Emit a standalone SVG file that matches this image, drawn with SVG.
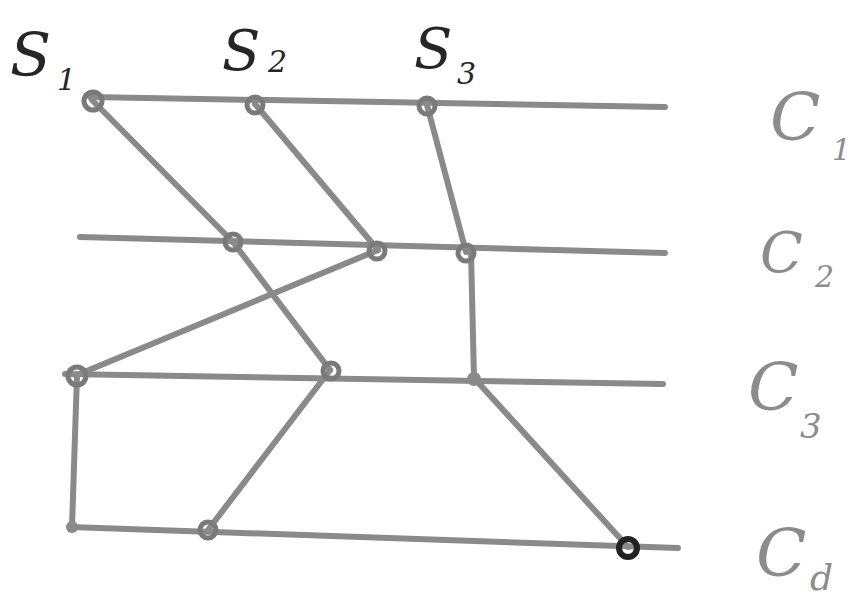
<svg xmlns="http://www.w3.org/2000/svg" width="861" height="599" viewBox="0 0 861 599">
<style>
.ln{stroke:#8a8a8a;stroke-width:6;stroke-linecap:round;fill:none}
.kn{fill:none;stroke:#7a7a7a;stroke-width:5}
.sl{font-family:"DejaVu Serif",serif;font-style:italic;fill:#262626}
.cl{font-family:"DejaVu Serif",serif;font-style:italic;fill:#8c8c8c}
</style>
<rect width="861" height="599" fill="#ffffff"/>
<g id="connectors">
<path class="ln" d="M90 97 L665 107"/>
<path class="ln" d="M80 237 L665 253"/>
<path class="ln" d="M65 374 L663 384"/>
<path class="ln" d="M70 527 L678 548"/>
<path class="ln" d="M92 100 L233 242"/>
<path class="ln" d="M233 242 L330 370"/>
<path class="ln" d="M255 104 L378 250"/>
<path class="ln" d="M378 250 L77 375"/>
<path class="ln" d="M427 105 L466 252"/>
<path class="ln" d="M471 252 L474 378"/>
<path class="ln" d="M474 378 L628 547"/>
<path class="ln" d="M77 375 L72 527"/>
<path class="ln" d="M330 370 L208 530"/>
</g>
<g id="n-s1-c1"><circle class="kn" cx="93" cy="101" r="9"/></g>
<g id="n-s2-c1"><circle class="kn" cx="255" cy="105" r="8"/></g>
<g id="n-s3-c1"><circle class="kn" cx="427" cy="106" r="8"/></g>
<g id="n-c2-a"><circle class="kn" cx="233" cy="242" r="8"/></g>
<g id="n-c2-b"><circle class="kn" cx="377" cy="251" r="8"/></g>
<g id="n-c2-c"><circle class="kn" cx="466" cy="253" r="8"/></g>
<g id="n-c3-a"><circle class="kn" cx="77" cy="376" r="9"/></g>
<g id="n-c3-b"><circle class="kn" cx="331" cy="371" r="8"/></g>
<g id="n-c3-c"><circle cx="474" cy="379" r="7" fill="#8a8a8a"/></g>
<g id="n-c4-a"><circle cx="72" cy="527" r="6" fill="#8a8a8a"/></g>
<g id="n-c4-b"><circle class="kn" cx="208" cy="530" r="8"/></g>
<g id="n-c4-c"><circle cx="628" cy="548" r="9" fill="none" stroke="#222" stroke-width="6"/></g>
<g id="labels">
<text class="sl" x="10" y="76" font-size="60">S</text>
<text class="sl" x="57" y="90" font-size="30" fill="#555">1</text>
<text class="sl" x="222" y="70" font-size="56">S</text>
<text class="sl" x="268" y="72" font-size="30" fill="#666">2</text>
<text class="sl" x="414" y="68" font-size="56">S</text>
<text class="sl" x="457" y="84" font-size="30" fill="#555">3</text>
<text class="cl" x="770" y="140" font-size="66">C</text>
<text class="cl" x="832" y="160" font-size="30">1</text>
<text class="cl" x="760" y="272" font-size="56">C</text>
<text class="cl" x="815" y="287" font-size="30">2</text>
<text class="cl" x="748" y="410" font-size="66">C</text>
<text class="cl" x="800" y="438" font-size="34">3</text>
<text class="cl" x="756" y="576" font-size="66">C</text>
<text class="cl" x="810" y="590" font-size="36">d</text>
</g>
</svg>
